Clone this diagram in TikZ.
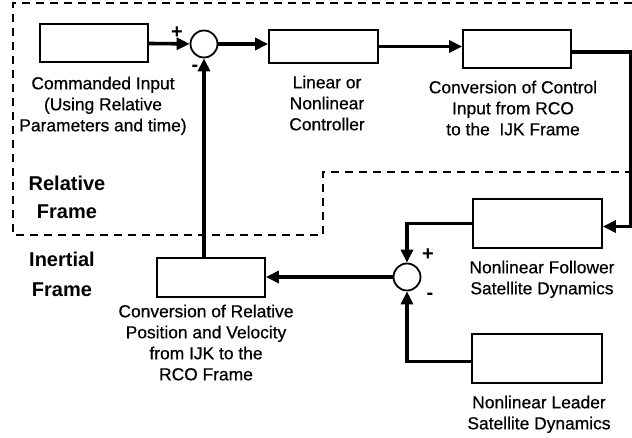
\documentclass[tikz,border=0pt]{standalone}
\usepackage{fontspec}
\setmainfont{Liberation Sans}
\newfontfamily\lblfont{Liberation Sans}[FakeBold=0.5]
\usetikzlibrary{arrows.meta}
\begin{document}
\begin{tikzpicture}[x=1pt,y=-1pt,
  blk/.style={draw, line width=1.8pt, inner sep=0pt, fill=white},
  sumc/.style={draw, circle, line width=1.8pt, minimum size=27pt, inner sep=0pt, fill=white},
  conn/.style={line width=3.6pt, -{Triangle[length=13pt,width=12pt]}},
  lbl/.style={align=center, inner sep=0pt, anchor=north, font=\lblfont\fontsize{17.4}{21}\selectfont},
  frm/.style={inner sep=0pt, font=\bfseries\fontsize{20}{24}\selectfont},
  sgn/.style={inner sep=0pt, font=\bfseries\fontsize{20}{22}\selectfont},
  zone/.style={dashed, dash pattern=on 8pt off 6pt, line width=2.6pt}]
\useasboundingbox (0,0) rectangle (632,438);
% dashed frame boundary
\draw[zone] (632,3) -- (13,3) -- (13,235) -- (323,235) -- (323,172) -- (632,172);
% blocks
\node[blk, minimum width=108pt, minimum height=38pt] (b1) at (94,43) {};
\node[sumc] (c1) at (204,44) {};
\node[blk, minimum width=109pt, minimum height=33pt] (b2) at (323.5,46.5) {};
\node[blk, minimum width=108pt, minimum height=38pt] (b3) at (517,49) {};
\node[blk, minimum width=129pt, minimum height=49pt] (fol) at (537.5,223.5) {};
\node[blk, minimum width=130pt, minimum height=49pt] (lead) at (537,358.5) {};
\node[blk, minimum width=108pt, minimum height=39pt] (b4) at (211,277.5) {};
\node[sumc] (c2) at (407,277) {};
% labels
\node[lbl] (t1) at (103,76.5) {Commanded Input\\(Using Relative\\Parameters and time)};
\node[lbl] (t2) at (327,75.5) {Linear or\\Nonlinear\\Controller};
\node[lbl] (t3) at (513,80.5) {Conversion of Control\\Input from RCO\\to the \ IJK Frame};
\node[lbl] (t4) at (206,304.5) {Conversion of Relative\\Position and Velocity\\from IJK to the\\RCO Frame};
\node[lbl] (t5) at (542,260.5) {Nonlinear Follower\\Satellite Dynamics};
\node[lbl] (t6) at (539,395.5) {Nonlinear Leader\\Satellite Dynamics};
\node[frm] (f1) at (67,183) {Relative};
\node[frm] (f2) at (67,212) {Frame};
\node[frm] (f3) at (62,259) {Inertial};
\node[frm] (f4) at (62,290) {Frame};
% signs
\node[sgn] (s1) at (177,33) {+};
\node[sgn] (s2) at (195,68) {-};
\node[sgn] (s3) at (428,255) {+};
\node[sgn] (s4) at (430,296) {-};
% connectors
\draw[conn] (b1) -- (c1);
\draw[conn] (c1) -- (c1 -| b2.west);
\draw[conn] (b2) -- (b2 -| b3.west);
\draw[conn] ([yshift=-3pt]b3.east) -- ++(59,0) |- ([yshift=-3pt]fol.east);
\draw[conn] (fol.west) -| (c2.north);
\draw[conn] ([yshift=-3pt]lead.west) -| (c2.south);
\draw[conn] (c2) -- (c2 -| b4.east);
\draw[conn] (c1 |- b4.north) -- (c1.south);
\end{tikzpicture}
\end{document}
